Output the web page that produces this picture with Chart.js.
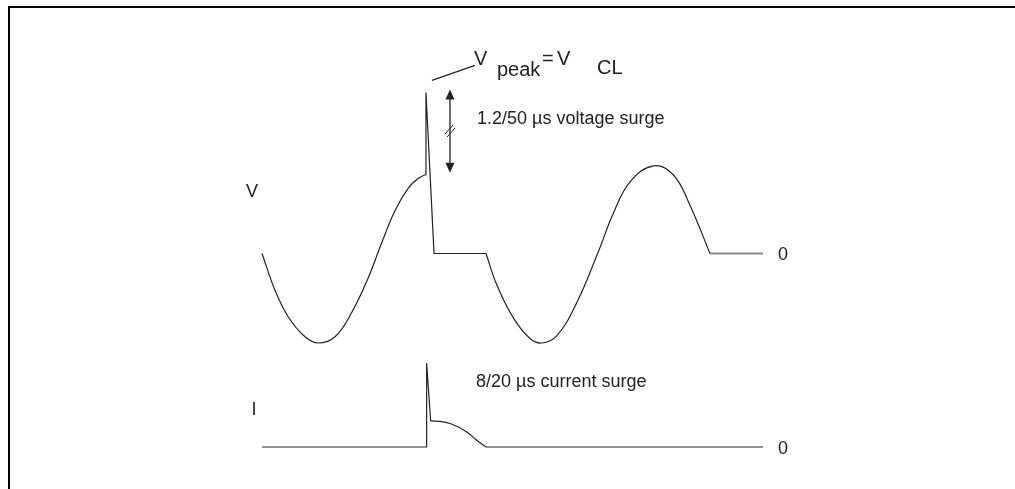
<!DOCTYPE html>
<html>
<head>
<meta charset="utf-8">
<script src="https://cdn.jsdelivr.net/npm/chart.js@4.4.1/dist/chart.umd.min.js"></script>
<style>
  html, body { margin: 0; padding: 0; background: #fff; }
  #wrap { position: relative; width: 1015px; height: 489px; overflow: hidden; }
  #frame { position: absolute; left: 8px; top: 6px; right: -10px; bottom: -10px;
           border-top: 2px solid #000; border-left: 2px solid #000; }
  #surge { position: absolute; left: 0; top: 0; }
</style>
</head>
<body>
<div id="wrap">
  <div id="frame"></div>
  <canvas id="surge" width="1015" height="489"></canvas>
</div>
<script>
// Voltage, normalised to the mains peak (time in ms, 50 Hz mains)
const vTime1 = [0, 1.16, 2.35, 3.84, 5.03, 6.52, 8.01, 9.49, 10.69, 11.88, 13.06, 13.96, 14.58];
const vValue1 = [0, -0.41, -0.71, -0.93, -1.00, -0.93, -0.66, -0.27, 0.12, 0.48, 0.73, 0.84, 0.88];

// 1.2/50 us surge, clamped, then line held at zero
const vSurgeTime = [14.58, 14.64, 15.36, 20.0];
const vSurgeValue = [0.88, 1.80, 0, 0];

const vTime2 = [20.0, 20.96, 22.44, 23.93, 24.97, 26.31, 28.1, 30.03, 31.37, 32.86, 34.94, 36.72, 38.21, 40.0];
const vValue2 = [0, -0.35, -0.72, -0.95, -1.00, -0.92, -0.55, 0.02, 0.45, 0.80, 0.98, 0.88, 0.54, 0];

const vTailTime = [40.0, 44.73];
const vTailValue = [0, 0];

// 8/20 us current surge, normalised to its peak
const iPulseTime = [0, 14.7, 14.7, 15.06];
const iPulseValue = [0, 0, 1.0, 0.31];
const iDecayTime = [15.06, 15.9, 16.79, 18.28, 19.17, 20.0];
const iDecayValue = [0.31, 0.305, 0.28, 0.18, 0.08, 0];
const iTailTime = [20.0, 44.73];
const iTailValue = [0, 0];

const pts = (xs, ys) => xs.map((x, i) => ({ x: x, y: ys[i] }));

const ink = '#222';
const fontFamily = '"Liberation Sans", Arial, Helvetica, sans-serif';

function line(data, axis, opts) {
    return Object.assign({
        data: data,
        yAxisID: axis,
        borderColor: ink,
        borderWidth: 1.2,
        pointRadius: 0,
        tension: 0,
        fill: false
    }, opts || {});
}

const annotations = {
    id: 'annotations',
    afterDatasetsDraw(chart) {
        const c = chart.ctx;
        const xs = chart.scales.x;
        const yv = chart.scales.yV;
        const yi = chart.scales.yI;

        const sx = xs.getPixelForValue(vSurgeTime[1]);
        const sy = yv.getPixelForValue(vSurgeValue[1]);
        const ky = yv.getPixelForValue(vSurgeValue[0]);

        c.save();
        c.strokeStyle = ink;
        c.fillStyle = ink;
        c.lineWidth = 1.3;

        // leader to the V peak label
        c.beginPath();
        c.moveTo(sx + 6, sy - 12);
        c.lineTo(sx + 49, sy - 27);
        c.stroke();

        // double arrow for the surge height
        const ax = sx + 24;
        const top = sy - 3, bot = ky - 2;
        c.beginPath();
        c.moveTo(ax, top + 6);
        c.lineTo(ax, bot - 6);
        c.stroke();
        c.beginPath();
        c.moveTo(ax, top); c.lineTo(ax - 4.5, top + 10); c.lineTo(ax + 4.5, top + 10); c.closePath();
        c.fill();
        c.beginPath();
        c.moveTo(ax, bot); c.lineTo(ax - 4.5, bot - 10); c.lineTo(ax + 4.5, bot - 10); c.closePath();
        c.fill();
        // break marks
        const my = (top + bot) / 2 - 1;
        c.lineWidth = 1;
        c.beginPath();
        c.moveTo(ax - 5, my + 4); c.lineTo(ax + 3, my - 5);
        c.moveTo(ax - 3, my + 7); c.lineTo(ax + 5, my - 2);
        c.stroke();

        // V peak = V CL
        c.textAlign = 'left';
        c.textBaseline = 'alphabetic';
        c.font = '20px ' + fontFamily;
        c.fillText('V', 474, 65);
        c.fillText('peak', 497, 76);
        c.fillText('=', 542, 65);
        c.fillText('V', 557, 65);
        c.fillText('CL', 597, 74);

        c.font = '18px ' + fontFamily;
        c.fillText('1.2/50 µs voltage surge', 477, 124);
        c.fillText('8/20 µs current surge', 476, 387);

        c.textAlign = 'center';
        const x0 = xs.getPixelForValue(vTime1[0]);
        const xe = xs.getPixelForValue(vTailTime[1]);
        c.fillText('V', x0 - 10, 197);
        c.fillText('I', x0 - 8, 415);
        c.textAlign = 'left';
        c.fillText('0', xe + 15, yv.getPixelForValue(0) + 7);
        c.fillText('0', xe + 15, yi.getPixelForValue(0) + 7);
        c.restore();
    }
};

new Chart(document.getElementById('surge'), {
    type: 'line',
    data: {
        datasets: [
            line(pts(vTime1, vValue1), 'yV', { tension: 0.4 }),
            line(pts(vSurgeTime, vSurgeValue), 'yV'),
            line(pts(vTime2, vValue2), 'yV', { tension: 0.4 }),
            line(pts(vTailTime, vTailValue), 'yV', { borderColor: '#8a8a8a', borderWidth: 2 }),
            line(pts(iPulseTime, iPulseValue), 'yI'),
            line(pts(iDecayTime, iDecayValue), 'yI', { cubicInterpolationMode: 'monotone' }),
            line(pts(iTailTime, iTailValue), 'yI')
        ]
    },
    options: {
        responsive: false,
        animation: false,
        devicePixelRatio: 1,
        layout: { padding: 0 },
        plugins: { legend: { display: false }, tooltip: { enabled: false } },
        scales: {
            x: { type: 'linear', display: false, min: -23.393, max: 67.232 },
            yV: { type: 'linear', display: false, min: -2.6313, max: 2.8324 },
            yI: { type: 'linear', display: false, min: -0.5, max: 5.3214 }
        }
    },
    plugins: [annotations]
});
</script>
</body>
</html>
